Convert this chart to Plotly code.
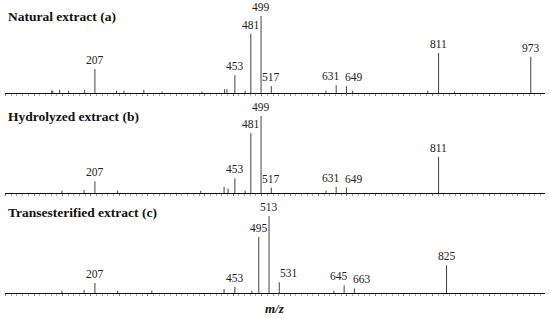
import plotly.graph_objects as go

# ---- data (m/z, relative intensity %) ----
panel_titles = ["Natural extract (a)", "Hydrolyzed extract (b)", "Transesterified extract (c)"]

mz_a = [131, 133, 145, 161, 189, 207, 245, 258, 293, 325, 395, 435, 439, 453, 471, 481, 499, 517, 613, 631, 649, 660, 792, 811, 839, 973]
int_a = [3, 3, 4, 3, 4, 31, 3, 3, 4, 2, 2, 5, 5, 23, 3, 77, 100, 9, 3, 10, 9, 3, 3, 52, 2, 47]
lab_a = [207, 453, 481, 499, 517, 631, 649, 811, 973]

mz_b = [149, 188, 207, 247, 393, 434, 441, 453, 471, 481, 499, 517, 613, 631, 649, 811]
int_b = [3, 4, 15, 3, 3, 8, 6, 19, 3, 78, 100, 7, 3, 8, 7, 47]
lab_b = [207, 453, 481, 499, 517, 631, 649, 811]

mz_c = [149, 188, 207, 247, 307, 434, 453, 483, 495, 513, 531, 627, 645, 663, 825]
int_c = [3, 4, 13, 3, 3, 5, 8, 3, 73, 100, 14, 3, 10, 6, 36]
lab_c = [207, 453, 495, 513, 531, 645, 663, 825]

x_range = [49, 998]
x_title = "m/z"

# ---- style ----
label_xshift = {631: -5, 649: 8, 645: -5, 663: 8, 531: 10}
domains = [(0.7085, 0.9498), (0.395, 0.6364), (0.0815, 0.3229)]
title_y_px = [16, 116, 212]
H, W = 319, 550
FONT = "Liberation Serif, Times New Roman, serif"

fig = go.Figure()
panels = [(mz_a, int_a, lab_a), (mz_b, int_b, lab_b), (mz_c, int_c, lab_c)]
annotations = []
for i, (mz, inten, labs) in enumerate(panels):
    xs, ys = [], []
    for m, v in zip(mz, inten):
        xs += [m, m, None]
        ys += [0, v, None]
    suffix = "" if i == 0 else str(i + 1)
    fig.add_trace(go.Scatter(x=xs, y=ys, mode="lines",
                             line=dict(color="#444444", width=1),
                             xaxis="x" + suffix, yaxis="y" + suffix,
                             showlegend=False, hoverinfo="skip"))
    lookup = dict(zip(mz, inten))
    for m in labs:
        annotations.append(dict(x=m, y=lookup[m], xref="x" + suffix, yref="y" + suffix,
                                text=str(m), showarrow=False, yanchor="bottom",
                                xanchor="center", yshift=1, xshift=label_xshift.get(m, 0),
                                font=dict(family=FONT, size=11.5, color="#222")))
    annotations.append(dict(x=1 / W, y=1 - title_y_px[i] / H, xref="paper", yref="paper",
                            text="<b>" + panel_titles[i] + "</b>", showarrow=False,
                            xanchor="left", yanchor="middle",
                            font=dict(family=FONT, size=13.5, color="#111")))

annotations.append(dict(x=0.5, y=1 - 308 / H, xref="paper", yref="paper",
                        text="<b><i>" + x_title + "</i></b>", showarrow=False,
                        xanchor="center", yanchor="middle",
                        font=dict(family=FONT, size=13, color="#111")))

layout = dict(width=W, height=H, margin=dict(l=5, r=5, t=0, b=0),
              paper_bgcolor="white", plot_bgcolor="white",
              annotations=annotations)
for i in range(3):
    suffix = "" if i == 0 else str(i + 1)
    layout["xaxis" + suffix] = dict(range=x_range, showline=True, linecolor="#111", linewidth=1,
                                    ticks="outside", ticklen=2, tickcolor="#777", dtick=50, tick0=0,
                                    minor=dict(ticks="outside", ticklen=2, dtick=10, tickcolor="#aaa"),
                                    showticklabels=False, showgrid=False, zeroline=False,
                                    anchor="y" + suffix, fixedrange=True)
    layout["yaxis" + suffix] = dict(range=[0, 100], domain=list(domains[i]), visible=False,
                                    anchor="x" + suffix, fixedrange=True)
fig.update_layout(**layout)
fig.write_html("out.html", config={"displayModeBar": False},
               post_script="document.body.style.margin='0';document.body.style.overflow='hidden';")
